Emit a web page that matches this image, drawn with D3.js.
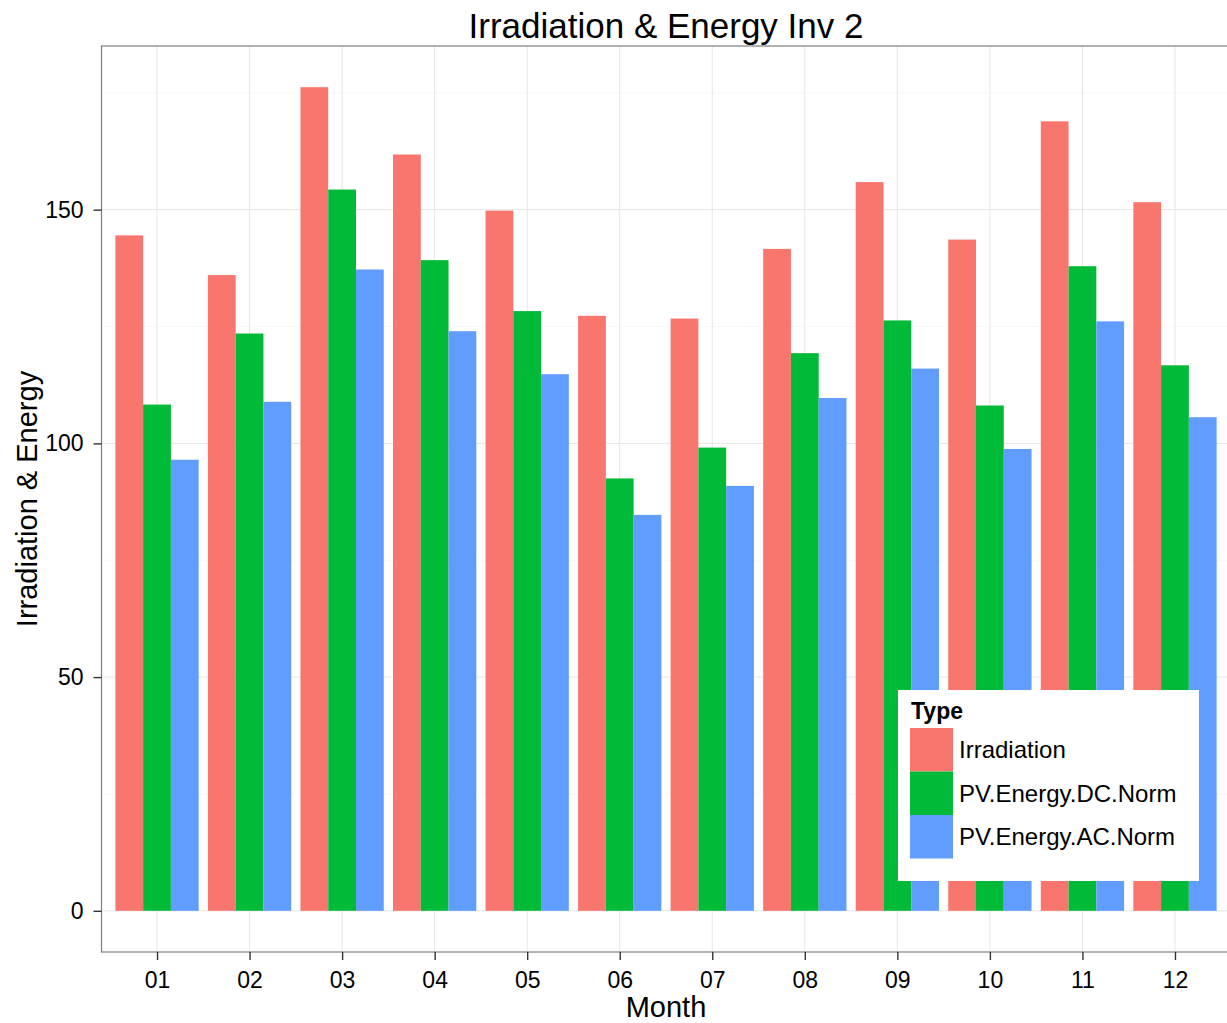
<!DOCTYPE html>
<html>
<head>
<meta charset="utf-8">
<script src="https://cdn.jsdelivr.net/npm/d3@7"></script>
<style>
  body { margin: 0; background: #fff; }
  svg { display: block; font-family: Arial, "Liberation Sans", sans-serif; }
</style>
</head>
<body>
<div id="chart"></div>
<script>
// data
var months = ["01", "02", "03", "04", "05", "06", "07", "08", "09", "10", "11", "12"]
var types = ["Irradiation", "PV.Energy.DC.Norm", "PV.Energy.AC.Norm"]
var irradiation = [144.5, 136.0, 176.2, 161.8, 149.8, 127.3, 126.7, 141.6, 155.9, 143.6, 168.9, 151.6]
var dcNorm = [108.3, 123.5, 154.3, 139.2, 128.3, 92.5, 99.1, 119.3, 126.3, 108.1, 137.9, 116.7]
var acNorm = [96.5, 108.9, 137.2, 124.0, 114.8, 84.7, 90.9, 109.7, 116.0, 98.8, 126.1, 105.6]
var yTicks = [0, 50, 100, 150]
var yMinor = [25, 75, 125, 175]
var colors = ["#F8766D", "#00BA38", "#619CFF"]

var series = [irradiation, dcNorm, acNorm]
var rows = []
months.forEach(function (m, i) {
  types.forEach(function (t, j) {
    rows.push({ month: m, type: t, value: series[j][i] })
  })
})

var W = 1227, H = 1023
var pLeft = 101.5, pRight = 1230.5, pTop = 46, pBottom = 952

var svg = d3.select("#chart").append("svg")
  .attr("width", W)
  .attr("height", H)

var x = d3.scalePoint()
  .domain(months)
  .range([pLeft, pRight])
  .padding(0.6)

var step = x.step()
var xInner = d3.scaleBand()
  .domain(types)
  .range([-0.45 * step, 0.45 * step])

var maxV = d3.max(rows, d => d.value)
var y = d3.scaleLinear()
  .domain([-0.05 * maxV, maxV * 1.05])
  .range([pBottom, pTop])

var color = d3.scaleOrdinal().domain(types).range(colors)

// panel grid
var grid = svg.append("g")
grid.selectAll("line.minor")
  .data(yMinor)
  .join("line")
  .attr("x1", pLeft).attr("x2", pRight)
  .attr("y1", d => y(d)).attr("y2", d => y(d))
  .attr("stroke", "#f5f5f5")
  .attr("stroke-width", 0.6)
grid.selectAll("line.hy")
  .data(yTicks)
  .join("line")
  .attr("x1", pLeft).attr("x2", pRight)
  .attr("y1", d => y(d)).attr("y2", d => y(d))
  .attr("stroke", "#e6e6e6")
  .attr("stroke-width", 1)
grid.selectAll("line.vx")
  .data(months)
  .join("line")
  .attr("x1", d => x(d)).attr("x2", d => x(d))
  .attr("y1", pTop).attr("y2", pBottom)
  .attr("stroke", "#e6e6e6")
  .attr("stroke-width", 1)

// bars
svg.append("g")
  .selectAll("rect")
  .data(rows)
  .join("rect")
  .attr("x", d => x(d.month) + xInner(d.type))
  .attr("width", xInner.bandwidth())
  .attr("y", d => y(d.value))
  .attr("height", d => y(0) - y(d.value))
  .attr("fill", d => color(d.type))

// panel border
svg.append("rect")
  .attr("x", pLeft).attr("y", pTop)
  .attr("width", pRight - pLeft).attr("height", pBottom - pTop)
  .attr("fill", "none")
  .attr("stroke", "#7f7f7f")
  .attr("stroke-width", 1.2)

// axes
var yAxis = svg.append("g")
  .attr("transform", `translate(${pLeft},0)`)
  .call(d3.axisLeft(y).tickValues(yTicks).tickSize(8).tickPadding(10).tickFormat(d3.format("d")))
yAxis.select(".domain").remove()
yAxis.selectAll(".tick line").attr("stroke", "#333").attr("stroke-width", 1.4)
yAxis.selectAll(".tick text")
  .attr("fill", "#000")
  .style("font-size", "23px")

var xAxis = svg.append("g")
  .attr("transform", `translate(0,${pBottom})`)
  .call(d3.axisBottom(x).tickSize(8).tickPadding(12))
xAxis.select(".domain").remove()
xAxis.selectAll(".tick line").attr("stroke", "#333").attr("stroke-width", 1.4)
xAxis.selectAll(".tick text")
  .attr("fill", "#000")
  .style("font-size", "23px")

// titles
svg.append("text")
  .attr("x", (pLeft + pRight) / 2)
  .attr("y", 38)
  .attr("text-anchor", "middle")
  .style("font-size", "35px")
  .text("Irradiation & Energy Inv 2")

svg.append("text")
  .attr("x", (pLeft + pRight) / 2)
  .attr("y", 1017)
  .attr("text-anchor", "middle")
  .style("font-size", "29px")
  .text("Month")

svg.append("text")
  .attr("transform", `translate(37,${(pTop + pBottom) / 2}) rotate(-90)`)
  .attr("text-anchor", "middle")
  .style("font-size", "29px")
  .text("Irradiation & Energy")

// legend
var legend = svg.append("g").attr("transform", "translate(898,690)")
legend.append("rect")
  .attr("width", 301).attr("height", 191)
  .attr("fill", "#fff")
legend.append("text")
  .attr("x", 13).attr("y", 29)
  .style("font-size", "23px")
  .style("font-weight", "bold")
  .text("Type")
var key = legend.selectAll("g.key")
  .data(types)
  .join("g")
  .attr("transform", (d, i) => `translate(12,${38 + i * 43.5})`)
key.append("rect")
  .attr("width", 43).attr("height", 43.5)
  .attr("fill", d => color(d))
key.append("text")
  .attr("x", 49).attr("y", 30)
  .style("font-size", "24px")
  .text(d => d)
</script>
</body>
</html>
